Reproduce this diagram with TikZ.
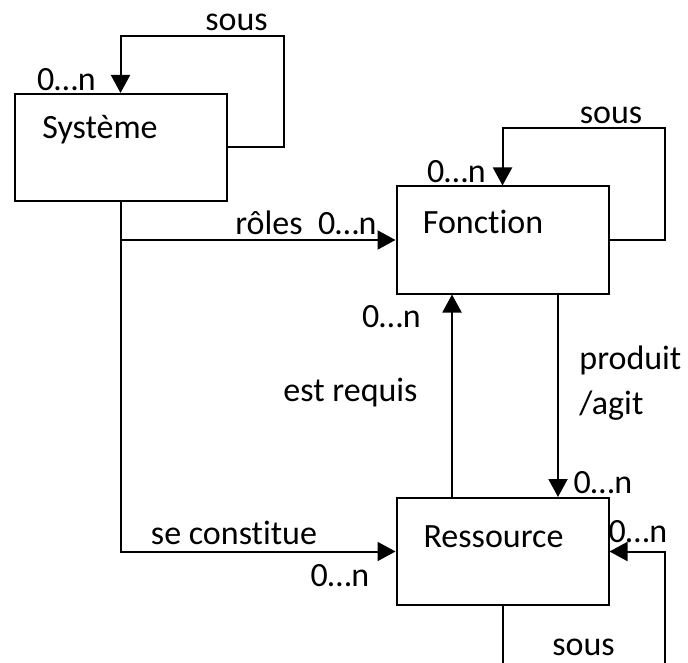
\documentclass[tikz,border=0pt]{standalone}
\usepackage{fontspec}
\setmainfont{Carlito}[Ligatures=NoCommon]
\usetikzlibrary{calc,arrows.meta,positioning}

\begin{document}
\begin{tikzpicture}[x=0.5pt, y=-0.5pt, font=\fontsize{17}{22.5}\selectfont,
      box/.style={draw=black, line width=1pt, minimum width=106pt,
                  minimum height=53.5pt, inner sep=0pt},
      lbl/.style={inner sep=0pt},
      arr/.style={-{Triangle[length=9pt, width=9.5pt]}, line width=1pt}]
    \fill[white] (0,0) rectangle (688,662);
    \clip (0,0) rectangle (688,662);
    % boxes
    \node[box] (sys) at (120.5, 147.5) {};
    \node[box] (fct) at (502.5, 240) {};
    \node[box] (res) at (502.5, 551.5) {};
    \node[lbl] (sysT) at (100, 130) {Système};
    \node[lbl] (fctT) at (483, 222) {Fonction};
    \node[lbl] (resT) at (493.5, 537) {Ressource};
    % loop corners
    \coordinate (sysloop) at (284, 36);
    \coordinate (fctloop) at (665, 128);
    \coordinate (resloop) at (665, 690);
    \draw[arr] (sys.east) -| (sysloop) -| (sys.north);
    \draw[arr] (fct.east) -| (fctloop) -| (fct.north);
    \draw[arr] (res.south) |- (resloop) |- (res.east);
    \draw[arr] (sys.south |- fct.west) -- (fct.west);
    \draw[arr] (sys.south) |- (res.west);
    \draw[arr] ($(res.north)+(-50.5,0)$) -- ($(fct.south)+(-50.5,0)$);
    \draw[arr] ($(fct.south)+(55.5,0)$) -- ($(res.north)+(55.5,0)$);
    % labels
    \node[lbl] (sysSous) at (236.5, 22) {sous};
    \node[lbl] (sysCard) at (66.5, 80) {0…n};
    \node[lbl, anchor=west] (roles) at (235, 223) {rôles~~0…n};
    \node[lbl] (fctSous) at (611, 115) {sous};
    \node[lbl] (fctCard) at (456.5, 172) {0…n};
    \node[lbl] (reqCard) at (391.5, 317) {0…n};
    \node[lbl] (req) at (350.5, 393) {est requis};
    \node[lbl, align=left, anchor=west] (prod) at (579, 383) {produit\\/agit};
    \node[lbl] (prodCard) at (603, 483) {0…n};
    \node[lbl] (resCard) at (638, 532) {0…n};
    \node[lbl] (const) at (234, 533) {se constitue};
    \node[lbl] (constCard) at (340, 576) {0…n};
    \node[lbl] (resSous) at (583.5, 647) {sous};
  \end{tikzpicture}
\end{document}
